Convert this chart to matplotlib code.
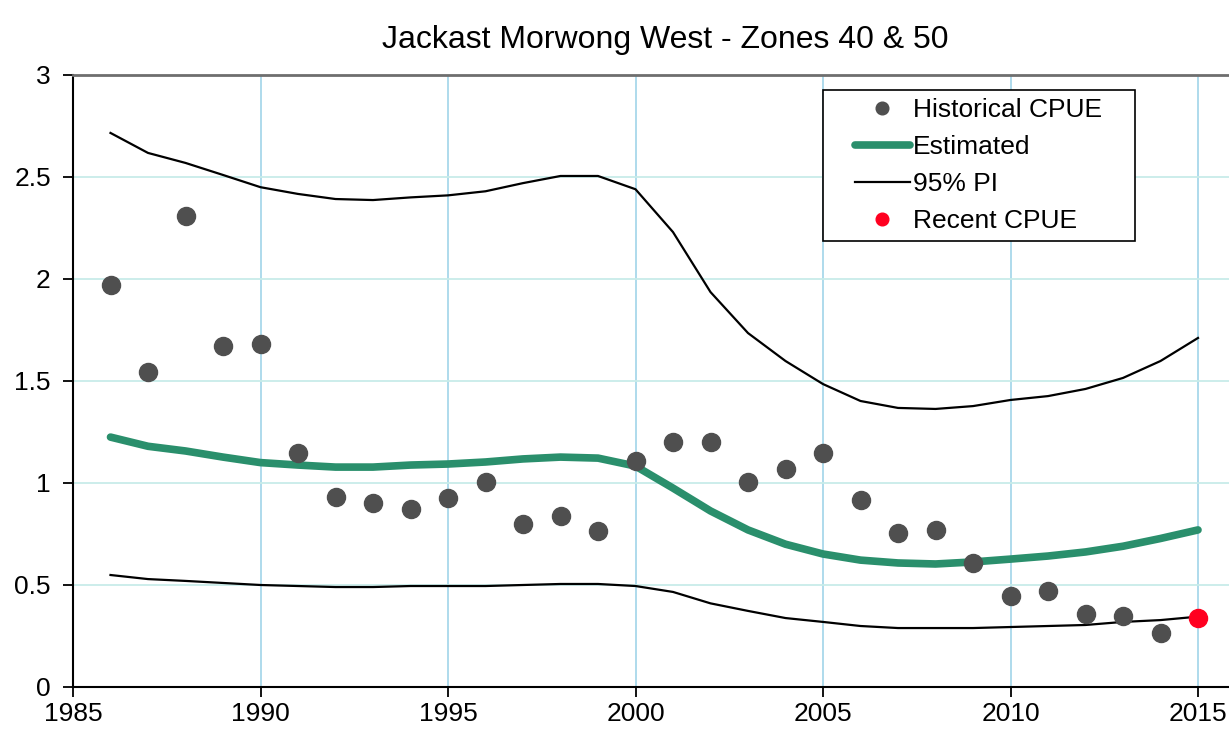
import matplotlib
matplotlib.use("Agg")
import matplotlib.pyplot as plt
from matplotlib.lines import Line2D
from matplotlib.legend_handler import HandlerLine2D
from matplotlib.ticker import FuncFormatter

plt.rcParams['font.family'] = ['Liberation Sans', 'DejaVu Sans']

years = list(range(1986, 2016))
hist_years = years[:-1]
hist_cpue = [1.97, 1.545, 2.31, 1.672, 1.68, 1.147, 0.931, 0.902, 0.873, 0.926,
             1.005, 0.799, 0.838, 0.765, 1.108, 1.201, 1.201, 1.005, 1.069, 1.147,
             0.917, 0.755, 0.77, 0.608, 0.446, 0.471, 0.358, 0.348, 0.265]
recent_year = [2015]
recent_cpue = [0.338]
estimated = [1.225, 1.18, 1.157, 1.127, 1.10, 1.088, 1.078, 1.078, 1.088, 1.093,
             1.103, 1.118, 1.127, 1.122, 1.083, 0.975, 0.863, 0.77, 0.70, 0.652,
             0.622, 0.608, 0.603, 0.613, 0.627, 0.642, 0.662, 0.69, 0.728, 0.77]
upper_pi = [2.716, 2.618, 2.569, 2.51, 2.45, 2.417, 2.392, 2.387, 2.40, 2.41,
            2.43, 2.47, 2.505, 2.505, 2.44, 2.23, 1.936, 1.735, 1.598, 1.485,
            1.402, 1.368, 1.363, 1.377, 1.407, 1.426, 1.461, 1.515, 1.598, 1.711]
lower_pi = [0.549, 0.529, 0.52, 0.51, 0.50, 0.495, 0.49, 0.49, 0.495, 0.495,
            0.495, 0.50, 0.505, 0.505, 0.495, 0.466, 0.41, 0.373, 0.338, 0.319,
            0.299, 0.289, 0.289, 0.289, 0.294, 0.299, 0.304, 0.319, 0.328, 0.345]

fig = plt.figure(figsize=(12.29, 7.31), dpi=100)
ax = fig.add_axes([73 / 1229, 44 / 731, 1 - 73 / 1229, 612 / 731])

# grid lines (excel style)
for x in range(1990, 2016, 5):
    ax.axvline(x, color='#a8d8ea', lw=1.3, zorder=0)
for y in [0.5, 1, 1.5, 2, 2.5]:
    ax.axhline(y, color='#c8ece9', lw=1.3, zorder=0)

ax.plot(years, upper_pi, color='black', lw=1.6, label='95% PI', zorder=2)
ax.plot(years, lower_pi, color='black', lw=1.6, zorder=2)
ax.plot(years, estimated, color='#2a8f6c', lw=5.5, solid_capstyle='round',
        label='Estimated', zorder=3)
ax.plot(hist_years, hist_cpue, 'o', color='#4f4f4f', ms=13, mec='#4f4f4f',
        label='Historical CPUE', zorder=4)
ax.plot(recent_year, recent_cpue, 'o', color='#ff0020', ms=13, mec='#ff0020',
        label='Recent CPUE', zorder=5)

ax.set_xlim(1985, 1985 + (1229 - 73) / 37.5)
ax.set_ylim(0, 3)
ax.set_xticks(range(1985, 2016, 5))
ax.set_yticks([0, 0.5, 1, 1.5, 2, 2.5, 3])
ax.yaxis.set_major_formatter(FuncFormatter(lambda v, p: '%g' % v))
ax.tick_params(direction='out', length=7, width=1.3, labelsize=19)
ax.tick_params(axis='x', pad=4)
ax.tick_params(axis='y', pad=9)

ax.spines['right'].set_visible(False)
ax.spines['top'].set_color('#6e6e6e')
ax.spines['top'].set_linewidth(2)
ax.spines['left'].set_linewidth(1.5)
ax.spines['bottom'].set_linewidth(1.5)

fig.text(665 / 1229, 1 - 40 / 731, 'Jackast Morwong West - Zones 40 & 50',
         ha='center', va='center', fontsize=23)

handles, labels = ax.get_legend_handles_labels()
order = [2, 1, 0, 3]
leg = ax.legend([handles[i] for i in order], [labels[i] for i in order],
                loc='upper left',
                bbox_to_anchor=(823 / 1229, 1 - 239 / 731, 312 / 1229, 149 / 731),
                bbox_transform=fig.transFigure, borderaxespad=0, mode='expand',
                fontsize=19, frameon=True, fancybox=False, edgecolor='black',
                framealpha=1, handlelength=3.0, handletextpad=0.1,
                borderpad=0.3, labelspacing=0.5, numpoints=1, markerscale=0.7,
                handler_map={Line2D: HandlerLine2D(xpad=0.9)})
leg.get_frame().set_linewidth(1.2)

fig.savefig('out.png', dpi=100)
